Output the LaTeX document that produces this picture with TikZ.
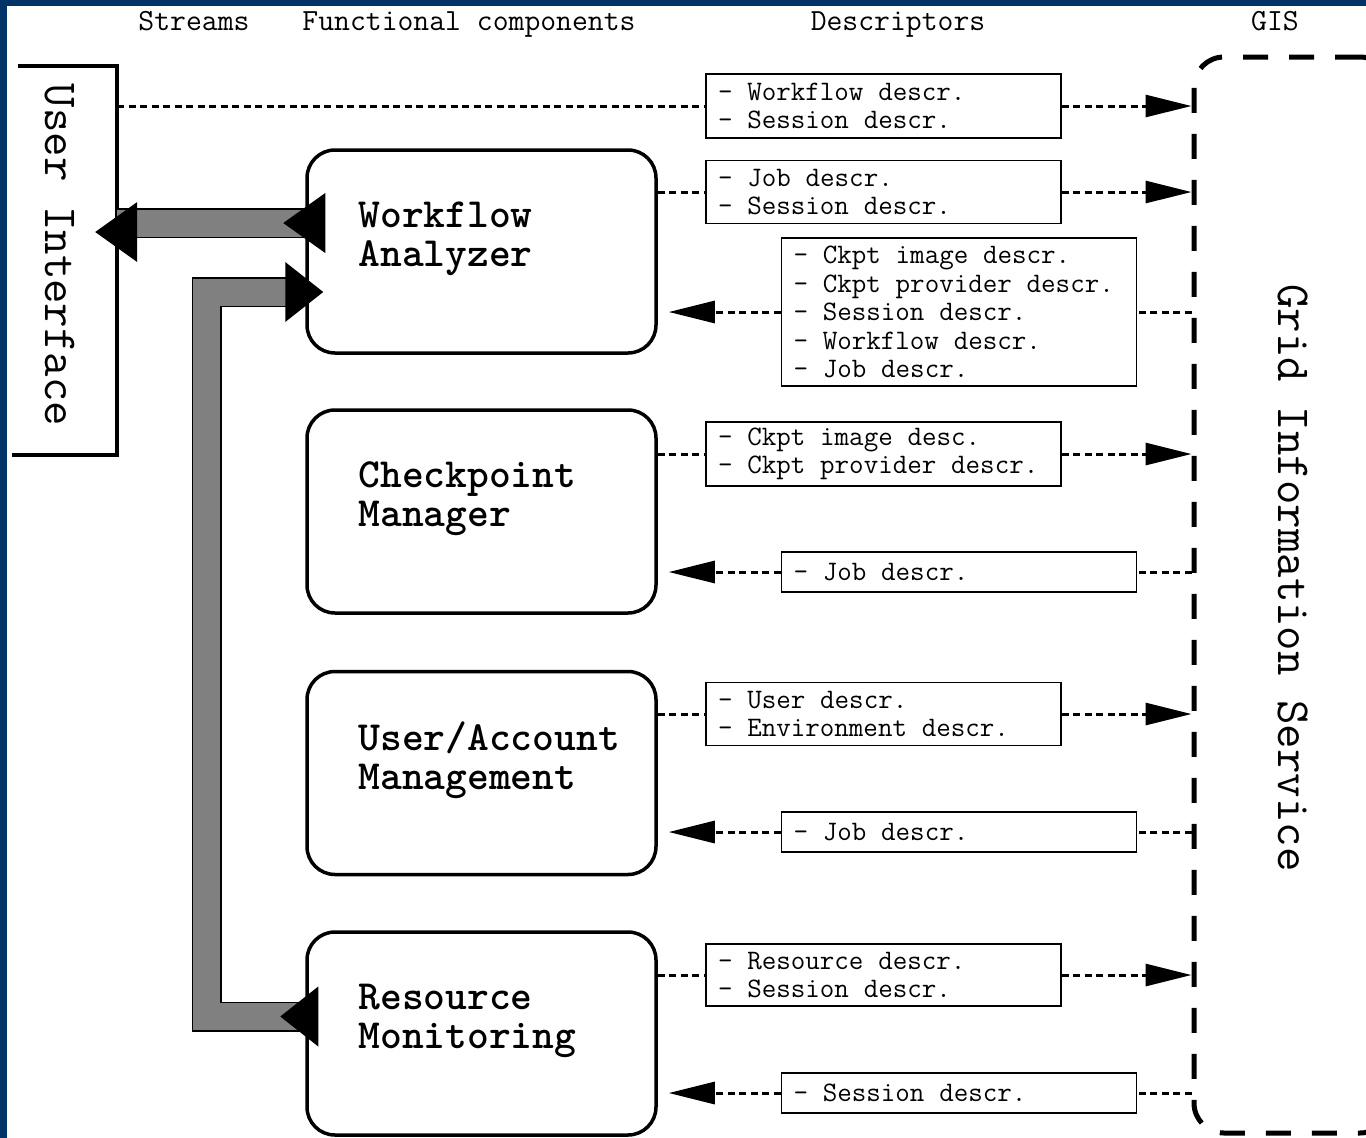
\documentclass[tikz,border=0pt]{standalone}
\usepackage{fontspec}
\usetikzlibrary{arrows.meta,positioning}
\definecolor{frameblue}{HTML}{003366}
\definecolor{bargray}{HTML}{808080}
\tikzset{
  comp/.style={draw,line width=3.5pt,rounded corners=28pt,minimum width=349pt,minimum height=203pt,fill=white},
  compname/.style={anchor=west,align=left,inner sep=0pt,font=\ttfamily\bfseries\fontsize{41.5}{39}\selectfont},
  desc/.style={draw,line width=1.5pt,fill=white,text width=331pt,inner xsep=12pt,inner ysep=0pt,minimum height=40pt,align=left,
    font=\ttfamily\fontsize{28.2}{28.5}\selectfont,execute at begin node={\spaceskip=0.525em\relax}},
  stream/.style={line width=3pt,dash pattern=on 7pt off 4.5pt},
  coltitle/.style={anchor=base,font=\ttfamily\fontsize{30.8}{32}\selectfont},
  sidetitle/.style={rotate=-90,font=\ttfamily\fontsize{47.5}{50}\selectfont},
  bar/.style={draw=black,line width=1.5pt,double=bargray,double distance=27pt},
}
\begin{document}
\begin{tikzpicture}[x=1pt,y=-1pt,>={Triangle[length=46pt,width=22pt]}]
\clip (0,0) rectangle (1366,1138);
\fill[white] (0,0) rectangle (1366,1138);
\fill[frameblue] (0,0) rectangle (1366,6);
\fill[frameblue] (0,0) rectangle (7,1138);

% column titles
\node[coltitle] (tStreams) at (194,30) {Streams};
\node[coltitle] (tFunc) at (469,30) {Functional components};
\node[coltitle] (tDesc) at (898,30) {Descriptors};
\node[coltitle] (tGis) at (1275,30) {GIS};

% user interface
\node[minimum width=105pt,minimum height=389pt,inner sep=0pt] (ui) at (64.5,260.5) {};
\draw[line width=4pt] ([xshift=6pt]ui.north west) -- (ui.north east) -- (ui.south east) -- (ui.south west);
\node[sidetitle] (uiTxt) at (60,255) {User Interface};

% grid information service
\node[draw,line width=5pt,dash pattern=on 25pt off 21pt,rounded corners=30pt,minimum width=196pt,minimum height=1076pt] (gis) at (1292,595) {};
\node[sidetitle] (gisTxt) at (1293,578) {Grid Information Service};

% functional components
\node[comp] (wa) at (481.5,251.5) {};
\node[comp] (cm) at (481.5,511.5) {};
\node[comp] (uam) at (481.5,773) {};
\node[comp] (rm) at (481.5,1033.5) {};
\node[compname] (waTxt) at ([xshift=53pt,yshift=13pt]wa.west) {Workflow\\Analyzer};
\node[compname] (cmTxt) at ([xshift=53pt,yshift=13pt]cm.west) {Checkpoint\\Manager};
\node[compname] (uamTxt) at ([xshift=53pt,yshift=13pt]uam.west) {User/Account\\Management};
\node[compname] (rmTxt) at ([xshift=53pt,yshift=13pt]rm.west) {Resource\\Monitoring};

% descriptors
\node[desc,minimum height=64pt] (dWf) at (883.5,106) {- Workflow descr.\\- Session descr.};
\node[desc,minimum height=63pt] (dJob) at (883.5,192) {- Job descr.\\- Session descr.};
\node[desc,minimum height=148pt] (dWaIn) at (959,312) {- Ckpt image descr.\\- Ckpt provider descr.\\- Session descr.\\- Workflow descr.\\- Job descr.};
\node[desc,minimum height=64pt] (dCkpt) at (883.5,454) {- Ckpt image desc.\\- Ckpt provider descr.};
\node[desc] (dCmIn) at (959,572) {- Job descr.};
\node[desc,minimum height=63pt] (dUser) at (883.5,714) {- User descr.\\- Environment descr.};
\node[desc] (dUamIn) at (959,832) {- Job descr.};
\node[desc,minimum height=62pt] (dRes) at (883.5,975) {- Resource descr.\\- Session descr.};
\node[desc] (dRmIn) at (959,1093) {- Session descr.};

% streams to the GIS
\draw[stream] (dWf -| ui.east) -- (dWf);
\draw[stream,->] (dWf) -- (dWf -| gis.west);
\draw[stream] (dJob -| wa.east) -- (dJob);
\draw[stream,->] (dJob) -- (dJob -| gis.west);
\draw[stream] (dCkpt -| cm.east) -- (dCkpt);
\draw[stream,->] (dCkpt) -- (dCkpt -| gis.west);
\draw[stream] (dUser -| uam.east) -- (dUser);
\draw[stream,->] (dUser) -- (dUser -| gis.west);
\draw[stream] (dRes -| rm.east) -- (dRes);
\draw[stream,->] (dRes) -- (dRes -| gis.west);

% streams from the GIS
\draw[stream] (dWaIn -| gis.west) -- (dWaIn);
\draw[stream,->,shorten >=11pt] (dWaIn) -- (dWaIn -| wa.east);
\draw[stream] (dCmIn -| gis.west) -- (dCmIn);
\draw[stream,->,shorten >=11pt] (dCmIn) -- (dCmIn -| cm.east);
\draw[stream] (dUamIn -| gis.west) -- (dUamIn);
\draw[stream,->,shorten >=11pt] (dUamIn) -- (dUamIn -| uam.east);
\draw[stream] (dRmIn -| gis.west) -- (dRmIn);
\draw[stream,->,shorten >=11pt] (dRmIn) -- (dRmIn -| rm.east);

% gray bars
\draw[bar] ([yshift=28.5pt]wa.west) -- ([yshift=28.5pt]wa.west -| ui.east);
\fill ([xshift=-22pt,yshift=28.5pt]ui.east) -- ++(42,-30) -- ++(0,60) -- cycle;
\fill ([xshift=-22pt,yshift=28.5pt]wa.west) -- ++(42,-30) -- ++(0,60) -- cycle;
\draw[bar,shorten >=10pt] ([yshift=17pt]rm.west) -| (206.5,292) -- ([yshift=-40.5pt]wa.west);
\fill ([xshift=-25pt,yshift=17pt]rm.west) -- ++(38,-30) -- ++(0,60) -- cycle;
\fill ([xshift=18pt,yshift=-40.5pt]wa.west) -- ++(-38,-30) -- ++(0,60) -- cycle;
\end{tikzpicture}
\end{document}
